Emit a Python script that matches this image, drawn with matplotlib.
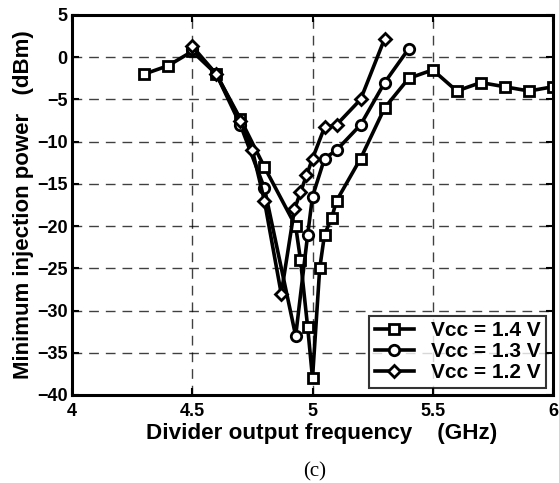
import matplotlib
matplotlib.use("Agg")
import matplotlib.pyplot as plt

# Data
f14 = [4.30, 4.40, 4.50, 4.60, 4.70, 4.80, 4.93, 4.95, 4.98, 5.00, 5.03, 5.05, 5.08, 5.10, 5.20, 5.30, 5.40, 5.50, 5.60, 5.70, 5.80, 5.90, 6.00]
p14 = [-2.0, -1.0, 0.7, -2.0, -7.3, -13.0, -20.0, -24.0, -32.0, -38.0, -25.0, -21.0, -19.0, -17.0, -12.0, -6.0, -2.5, -1.5, -4.0, -3.0, -3.5, -4.0, -3.5]

f13 = [4.50, 4.60, 4.70, 4.80, 4.93, 4.98, 5.00, 5.05, 5.10, 5.20, 5.30, 5.40]
p13 = [1.0, -2.0, -8.0, -15.5, -33.0, -21.0, -16.5, -12.0, -11.0, -8.0, -3.0, 1.0]

f12 = [4.50, 4.60, 4.70, 4.75, 4.80, 4.87, 4.925, 4.95, 4.975, 5.00, 5.05, 5.10, 5.20, 5.30]
p12 = [1.3, -2.0, -7.5, -11.0, -17.0, -28.0, -18.0, -16.0, -14.0, -12.0, -8.3, -8.0, -5.0, 2.2]

labels = ["Vcc = 1.4 V", "Vcc = 1.3 V", "Vcc = 1.2 V"]
xticks = [4, 4.5, 5, 5.5, 6]
xticklabels = ["4", "4.5", "5", "5.5", "6"]
yticks = list(range(-40, 6, 5))

plt.rcParams['font.family'] = ['Liberation Sans', 'DejaVu Sans']
plt.rcParams['font.weight'] = 'bold'

fig = plt.figure(figsize=(5.59, 4.83), dpi=100)
ax = fig.add_axes([72/559, 1-395/483, (553-72)/559, (395-15)/483])

kw = dict(color='black', lw=2.6, markerfacecolor='white', markeredgecolor='black', markeredgewidth=2.0)
ax.plot(f14, p14, marker='s', markersize=7.5, label=labels[0], **kw)
ax.plot(f13, p13, marker='o', markersize=7.5, label=labels[1], **kw)
ax.plot(f12, p12, marker='D', markersize=6, label=labels[2], **kw)

ax.set_xlim(4, 6)
ax.set_ylim(-40, 5)
ax.set_xticks(xticks)
ax.set_xticklabels(xticklabels)
ax.set_yticks(yticks)
ax.grid(True, color='black', linestyle=(0, (7, 5)), lw=1.0, alpha=0.75)
ax.tick_params(axis='both', labelsize=13, direction='in', length=5, width=1.5,
               top=True, right=True)
ax.tick_params(axis='x', pad=6)
ax.tick_params(axis='y', pad=3)
for lab in ax.get_xticklabels() + ax.get_yticklabels():
    lab.set_fontweight('bold')
for s in ax.spines.values():
    s.set_linewidth(2.2)

ax.set_xlabel("Divider output frequency    (GHz)", fontsize=16.2, fontweight='bold', labelpad=3)
ax.xaxis.set_label_coords(0.52, -0.075)
ax.set_ylabel("Minimum injection power   (dBm)", fontsize=16, fontweight='bold', labelpad=2)

leg = ax.legend(loc='lower right', fontsize=15, handlelength=1.9, frameon=True, fancybox=False,
                borderpad=0.25, labelspacing=0.1, handletextpad=0.8, borderaxespad=0.35)
leg.get_frame().set_edgecolor('black')
leg.get_frame().set_linewidth(1.5)
for t in leg.get_texts():
    t.set_fontweight('bold')

fig.text(315/559, 1-472/483, "(c)", fontsize=15, family='Liberation Serif', fontweight='normal',
         ha='center', va='center')

fig.savefig("out.png", dpi=100)
